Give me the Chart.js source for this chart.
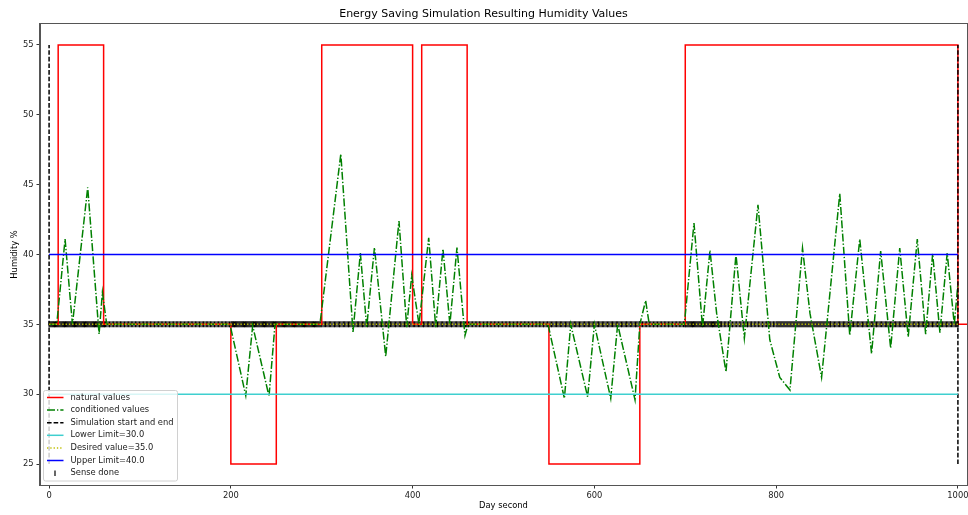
<!DOCTYPE html>
<html>
<head>
<meta charset="utf-8">
<script src="https://cdn.jsdelivr.net/npm/chart.js@4.4.1/dist/chart.umd.min.js"></script>
<style>
  html, body { margin: 0; padding: 0; background: #fff; }
  #wrap { width: 968px; height: 515px; }
</style>
</head>
<body>
<div id="wrap"><canvas id="humChart" width="968" height="515"></canvas></div>
<script>
// values
const natX = [0, 10, 10, 60, 60, 200, 200, 250, 250, 300, 300, 400, 400, 410, 410, 460, 460, 550, 550, 650, 650, 700, 700, 1000, 1000, 1010];
const natY = [35, 35, 55, 55, 35, 35, 25, 25, 35, 35, 55, 55, 35, 35, 55, 55, 35, 35, 25, 25, 35, 35, 55, 55, 35, 35];

const condX = [0, 8.4, 17.6, 25.7, 42.5, 55, 58.7, 63.4, 199, 216.4, 224, 242, 248.6,
  298, 321, 334.4, 342.5, 349.5, 358, 370.4, 385, 393.5, 399, 407, 417.7, 425.4, 433.4, 441, 448.8, 457.6, 461,
  549, 567, 574, 592.6, 600, 618, 625.6, 644.7, 650, 656.4, 660.4,
  699, 709.6, 719, 727.2, 734.5, 744.8, 755.8, 765, 780, 785.8, 793, 804, 815.2, 829, 837.2, 850,
  870, 881, 892, 905, 915, 926, 936, 945.3, 955.3, 964.5, 972.2, 980.2, 988.2, 996, 1000];
const condY = [35, 35, 41.1, 35, 44.8, 34.3, 37.3, 35, 35, 29.9, 34.9, 29.85, 35,
  35, 47.2, 34.45, 40.1, 34.8, 40.5, 32.7, 42.4, 34.8, 38.5, 35, 41.2, 34.8, 40.4, 35, 40.5, 34.2, 35,
  35, 29.7, 35, 29.8, 35, 29.7, 35, 29.6, 35, 36.7, 35,
  35, 42.25, 34.8, 40.3, 35.8, 31.6, 40.0, 34.0, 43.56, 39.3, 33.9, 31.2, 30.3, 40.46, 35.8, 31.2,
  44.35, 34.2, 41.1, 32.9, 40.25, 33.3, 40.46, 34.1, 41.1, 34.3, 40.05, 34.4, 40.1, 35.0, 37.9];

const simX = [0, 1000];
const simRange = [25, 55];
const limitX = [0, 1000];
const lowerLimit = 30;
const desiredValue = 35;
const upperLimit = 40;

// sensing runs: [from, to, spacing] - dense where the band looks solid
const senseRuns = [[0, 62, 1], [62, 200, 1.5], [200, 300, 1], [300, 460, 1.4], [460, 550, 1.5],
  [550, 650, 1.4], [650, 700, 1.5], [700, 740, 1], [740, 800, 1.5], [800, 860, 1.1], [860, 1000, 1.4]];

const xTicks = [0, 200, 400, 600, 800, 1000];
const yTicks = [25, 30, 35, 40, 45, 50, 55];

const FONT = 'DejaVu Sans';

function pts(xs, ys) {
    return xs.map((x, i) => ({x: x, y: ys[i]}));
}

let sensePts = [];
senseRuns.forEach(r => {
    for (let x = r[0]; x < r[1]; x += r[2]) sensePts.push({x: x, y: desiredValue});
});
sensePts.push({x: 1000, y: desiredValue});

let simPts = [];
simX.forEach((x, i) => {
    if (i > 0) simPts.push({x: x, y: null});
    simPts.push({x: x, y: simRange[0]}, {x: x, y: simRange[1]});
});

const legendPlugin = {
    id: 'boxLegend',
    afterDraw(chart) {
        const ctx = chart.ctx;
        const a = chart.chartArea;
        const x0 = a.left + 3.5, y0 = a.bottom - 94.5, w = 134, h = 90.5;
        ctx.save();
        ctx.beginPath();
        ctx.roundRect(x0, y0, w, h, 2);
        ctx.fillStyle = 'rgba(255,255,255,0.8)';
        ctx.fill();
        ctx.strokeStyle = '#d0d0d0';
        ctx.lineWidth = 1;
        ctx.stroke();

        ctx.font = '8.33px "' + FONT + '"';
        ctx.textBaseline = 'middle';
        chart.data.datasets.forEach((ds, i) => {
            const y = y0 + 7 + i * 12.6;
            if (ds.isSense) {
                ctx.strokeStyle = '#000';
                ctx.lineWidth = 1.2;
                ctx.setLineDash([]);
                ctx.beginPath();
                ctx.moveTo(x0 + 11.5, y - 2.5);
                ctx.lineTo(x0 + 11.5, y + 3);
                ctx.stroke();
            } else {
                ctx.strokeStyle = ds.borderColor;
                ctx.lineWidth = ds.borderWidth;
                ctx.setLineDash(ds.borderDash || []);
                ctx.beginPath();
                ctx.moveTo(x0 + 3.5, y);
                ctx.lineTo(x0 + 20, y);
                ctx.stroke();
            }
            ctx.setLineDash([]);
            ctx.fillStyle = '#222';
            ctx.fillText(ds.label, x0 + 27, y);
        });

        // top / right spines
        ctx.strokeStyle = '#555';
        ctx.lineWidth = 1;
        ctx.strokeRect(a.left - 0.5, a.top - 0.5, a.right - a.left + 1, a.bottom - a.top + 1);
        ctx.restore();
    }
};

const ctx = document.getElementById('humChart').getContext('2d');
let chart = new Chart(ctx, {
    type: 'line',
    data: {
        datasets: [
            {
                label: 'natural values',
                data: pts(natX, natY),
                borderColor: '#ff0000',
                borderWidth: 1.5,
                order: 6
            },
            {
                label: 'conditioned values',
                data: pts(condX, condY),
                borderColor: '#008000',
                borderWidth: 1.5,
                borderDash: [8, 2, 1.3, 2],
                order: 5
            },
            {
                label: 'Simulation start and end',
                data: simPts,
                borderColor: '#000000',
                borderWidth: 1.5,
                borderDash: [4.6, 2],
                spanGaps: false,
                order: 4
            },
            {
                label: 'Lower Limit=30.0',
                data: limitX.map(x => ({x: x, y: lowerLimit})),
                borderColor: '#3fcfcf',
                borderWidth: 1.5,
                order: 3
            },
            {
                label: 'Desired value=35.0',
                data: limitX.map(x => ({x: x, y: desiredValue})),
                borderColor: '#bfbf00',
                borderWidth: 1.5,
                borderDash: [1.3, 2],
                order: 2
            },
            {
                label: 'Upper Limit=40.0',
                data: limitX.map(x => ({x: x, y: upperLimit})),
                borderColor: '#0000ff',
                borderWidth: 1.5,
                order: 1
            },
            {
                label: 'Sense done',
                isSense: true,
                data: sensePts,
                showLine: false,
                pointStyle: 'line',
                rotation: 90,
                pointRadius: 3,
                pointBorderWidth: 1.1,
                pointBorderColor: '#000',
                order: 10
            }
        ]
    },
    options: {
        responsive: false,
        animation: false,
        devicePixelRatio: 1,
        layout: {autoPadding: false, padding: {left: 0, right: 1, top: 0, bottom: 0}},
        elements: {
            point: {radius: 0, hoverRadius: 0},
            line: {tension: 0, fill: false}
        },
        plugins: {
            legend: {display: false},
            tooltip: {enabled: false},
            title: {
                display: true,
                text: 'Energy Saving Simulation Resulting Humidity Values',
                color: '#000',
                font: {family: FONT, size: 11, weight: 'normal'},
                padding: {top: 8, bottom: 2.8}
            }
        },
        scales: {
            x: {
                type: 'linear',
                min: -10,
                max: 1010,
                afterBuildTicks: s => { s.ticks = xTicks.map(v => ({value: v})); },
                afterFit: s => { s.height = 30; s.paddingLeft = 0; s.paddingRight = 0; },
                grid: {drawOnChartArea: false, drawTicks: true, tickLength: 3.5, color: '#333'},
                border: {display: true, color: '#555'},
                ticks: {color: '#222', font: {family: FONT, size: 8.33}, padding: 2, maxRotation: 0,
                    callback: v => String(v)},
                title: {display: true, text: 'Day second', color: '#000', font: {family: FONT, size: 8.33}, padding: {top: 0, bottom: 4}}
            },
            y: {
                type: 'linear',
                min: 23.5,
                max: 56.5,
                afterBuildTicks: s => { s.ticks = yTicks.map(v => ({value: v})); },
                afterFit: s => { s.width = 40; s.paddingTop = 0; s.paddingBottom = 0; },
                grid: {drawOnChartArea: false, drawTicks: true, tickLength: 3.5, color: '#333'},
                border: {display: true, color: '#555'},
                ticks: {color: '#222', font: {family: FONT, size: 8.33}, padding: 3, callback: v => String(v)},
                title: {display: true, text: 'Humidity %', color: '#000', font: {family: FONT, size: 8.33}, padding: {top: 10, bottom: 0}}
            }
        }
    },
    plugins: [legendPlugin]
});
</script>
</body>
</html>
